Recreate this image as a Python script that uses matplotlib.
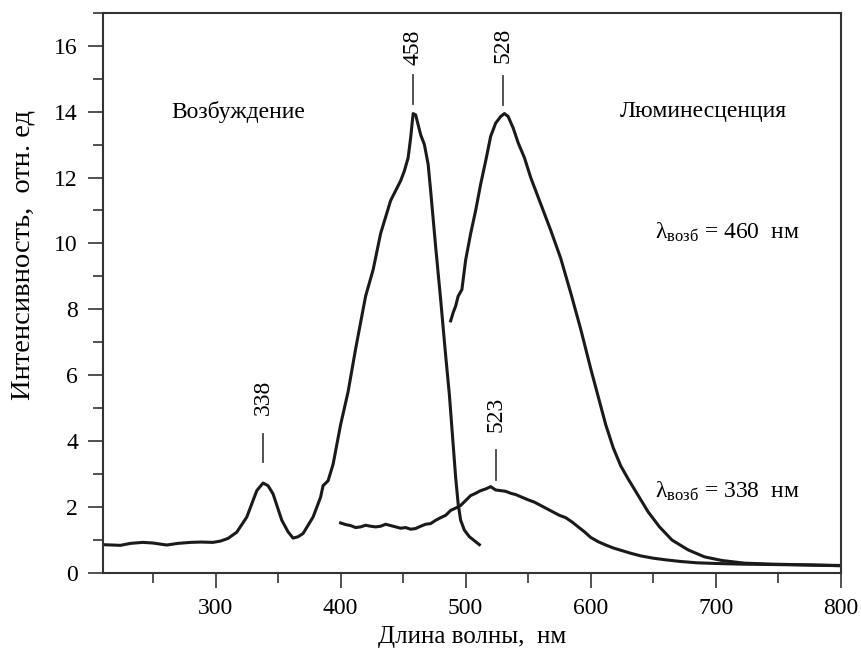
import numpy as np
import matplotlib
matplotlib.use('Agg')
import matplotlib.pyplot as plt
from matplotlib.ticker import MultipleLocator

plt.rcParams['font.family'] = ['Liberation Serif', 'DejaVu Serif']
plt.rcParams['mathtext.fontset'] = 'custom'
plt.rcParams['mathtext.rm'] = 'Liberation Serif'
plt.rcParams['mathtext.it'] = 'Liberation Serif'

# excitation spectrum
ex_x = [210, 224, 232, 242, 250, 261, 270, 280, 288, 298, 304, 310, 317, 325, 333,
        338, 342, 346, 353, 358, 362, 366, 370, 374, 378, 382, 384, 386, 390, 394,
        400, 406, 412, 420, 426, 432, 436, 440, 444, 448, 451, 454, 456, 458, 460,
        462, 464, 467, 470, 472, 476, 480, 484, 487, 490, 492, 494, 496, 499, 503,
        507, 511]
ex_y = [0.86, 0.84, 0.9, 0.93, 0.91, 0.85, 0.9, 0.93, 0.94, 0.93, 0.97, 1.05, 1.24, 1.7, 2.5,
        2.73, 2.65, 2.4, 1.6, 1.25, 1.06, 1.1, 1.2, 1.45, 1.7, 2.1, 2.3, 2.65, 2.8, 3.3,
        4.5, 5.5, 6.8, 8.4, 9.2, 10.3, 10.8, 11.3, 11.6, 11.9, 12.2, 12.6, 13.2, 13.94, 13.9,
        13.6, 13.3, 13.0, 12.4, 11.6, 9.9, 8.3, 6.6, 5.4, 3.9, 2.9, 2.1, 1.6, 1.3, 1.1,
        0.98, 0.86]

# luminescence, excitation 460 nm
em460_x = [488, 490, 492, 494, 497, 500, 504, 508, 512, 516, 520, 524, 528, 531, 534,
           538, 542, 547, 552, 560, 568, 576, 584, 592, 600, 606, 612, 618, 624, 630,
           638, 646, 655, 665, 678, 691, 705, 723, 745, 770, 800]
em460_y = [7.65, 7.9, 8.1, 8.4, 8.6, 9.5, 10.3, 11.0, 11.8, 12.5, 13.25, 13.65, 13.85, 13.94, 13.85,
           13.5, 13.05, 12.6, 12.0, 11.2, 10.4, 9.55, 8.5, 7.4, 6.2, 5.35, 4.5, 3.8, 3.25, 2.85,
           2.35, 1.85, 1.4, 1.0, 0.7, 0.49, 0.38, 0.3, 0.27, 0.25, 0.22]

# luminescence, excitation 338 nm
em338_x = [400, 404, 408, 412, 416, 420, 424, 428, 432, 436, 440, 444, 448, 452, 456,
           460, 464, 468, 472, 476, 480, 484, 488, 492, 496, 500, 504, 508, 512, 516,
           520, 524, 528, 532, 536, 540, 545, 550, 555, 560, 565, 570, 575, 580, 585,
           590, 595, 600, 606, 612, 618, 625, 632, 640, 650, 660, 672, 685, 700, 720,
           740, 760, 780, 800]
em338_y = [1.52, 1.47, 1.44, 1.38, 1.4, 1.45, 1.42, 1.4, 1.42, 1.48, 1.44, 1.4, 1.36, 1.38, 1.33,
           1.35, 1.42, 1.48, 1.5, 1.6, 1.68, 1.75, 1.9, 1.97, 2.05, 2.2, 2.35, 2.42, 2.5, 2.55,
           2.62, 2.52, 2.5, 2.48, 2.42, 2.38, 2.3, 2.22, 2.15, 2.05, 1.95, 1.85, 1.75, 1.68, 1.55,
           1.4, 1.25, 1.08, 0.95, 0.85, 0.76, 0.68, 0.6, 0.52, 0.45, 0.4, 0.35, 0.31, 0.29, 0.27,
           0.26, 0.25, 0.24, 0.23]

peak_names = ['338', '458', '528', '523']
peak_pos = [338, 458, 530, 524]

fig = plt.figure(figsize=(8.61, 6.65), dpi=100)
ax = fig.add_axes([0.1196, 0.1383, 0.857, 0.8426])

lc = '#1a1a1a'
ax.plot(ex_x, ex_y, color=lc, lw=2.2, solid_joinstyle='round')
ax.plot(em460_x, em460_y, color=lc, lw=2.2, solid_joinstyle='round')
ax.plot(em338_x, em338_y, color=lc, lw=2.2, solid_joinstyle='round')

# peak markers: (curve, line start offset, line end offset, text offset)
curves = [(ex_x, ex_y, 0.63, 1.5, 2.6), (ex_x, ex_y, 0.3, 1.16, 2.0),
          (em460_x, em460_y, 0.3, 1.16, 2.1), (em338_x, em338_y, 0.3, 1.2, 2.3)]
for name, xp, (cx, cy, a, b, t) in zip(peak_names, peak_pos, curves):
    yp = np.interp(xp, cx, cy)
    ax.plot([xp, xp], [yp + a, yp + b], color='#444444', lw=1.3)
    ax.text(xp, yp + t, name, rotation=90, ha='center', va='center', fontsize=17)

fs = 17
ax.text(318, 14.0, 'Возбуждение', ha='center', va='center', fontsize=fs)
ax.text(690, 14.0, 'Люминесценция', ha='center', va='center', fontsize=fs)
ax.text(651, 10.33, r'$\mathrm{\lambda}_{\mathrm{возб}}$ = 460  нм', ha='left', va='center', fontsize=fs)
ax.text(651, 2.47, r'$\mathrm{\lambda}_{\mathrm{возб}}$ = 338  нм', ha='left', va='center', fontsize=fs)

ax.set_xlim(210, 800)
ax.set_ylim(0, 17)
ax.xaxis.set_major_locator(MultipleLocator(100))
ax.xaxis.set_minor_locator(MultipleLocator(50))
ax.yaxis.set_major_locator(MultipleLocator(2))
ax.yaxis.set_minor_locator(MultipleLocator(1))
ax.tick_params(which='major', direction='out', length=11, width=1.2, color='#333333',
               labelsize=17, pad=7)
ax.tick_params(which='minor', direction='out', length=7, width=1.2, color='#333333')
for s in ax.spines.values():
    s.set_linewidth(1.5)
    s.set_color('#333333')

ax.set_xlabel('Длина волны,  нм', fontsize=18)
ax.xaxis.set_label_coords(0.5, -0.094)
ax.set_ylabel('Интенсивность,  отн. ед', fontsize=20.5)
ax.yaxis.set_label_coords(-0.091, 0.568)

fig.savefig('out.png', dpi=100)
